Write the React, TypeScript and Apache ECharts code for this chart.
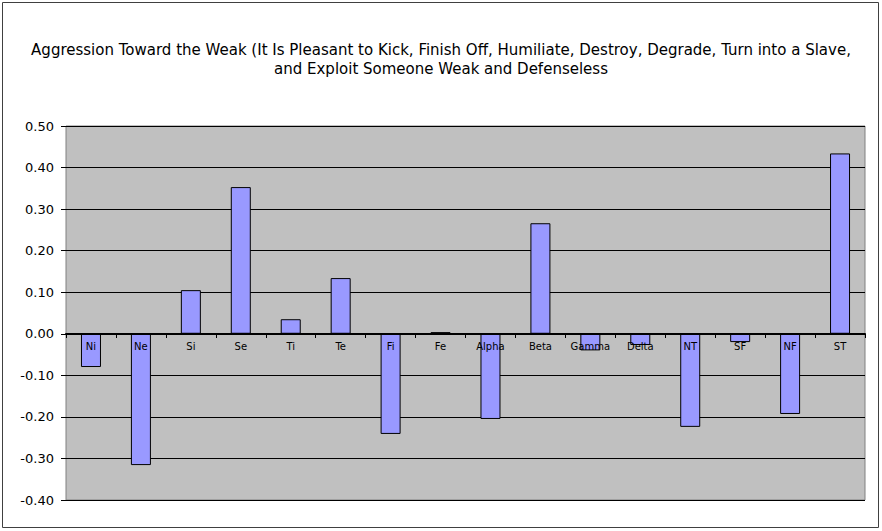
import React, { useEffect, useRef } from "react";
import * as echarts from "echarts";

const categories = ["Ni", "Ne", "Si", "Se", "Ti", "Te", "Fi", "Fe", "Alpha", "Beta", "Gamma", "Delta", "NT", "SF", "NF", "ST"];
const values = [-0.08, -0.316, 0.105, 0.353, 0.035, 0.134, -0.241, 0.004, -0.205, 0.266, -0.04, -0.027, -0.224, -0.02, -0.193, 0.434];
const titleLines = [
  "Aggression Toward the Weak (It Is Pleasant to Kick, Finish Off, Humiliate, Destroy, Degrade, Turn into a Slave,",
  "and Exploit Someone Weak and Defenseless",
];

export default function App() {
  const ref = useRef<HTMLDivElement>(null);
  useEffect(() => {
    if (!ref.current) return;
    const chart = echarts.init(ref.current, undefined, { renderer: "svg" });
    const font = "DejaVu Sans";
    chart.setOption({
      animation: false,
      backgroundColor: "#ffffff",
      textStyle: { fontFamily: font },
      title: {
        text: titleLines.join("\n"),
        left: "center",
        top: 35,
        textStyle: { fontFamily: font, fontSize: 15, fontWeight: "normal", color: "#000", lineHeight: 19 },
      },
      graphic: [
        {
          type: "rect",
          shape: { x: 2.5, y: 2.5, width: 876, height: 525 },
          style: { fill: "none", stroke: "#404040", lineWidth: 1 },
          silent: true,
        },
      ],
      grid: {
        left: 66,
        right: 17,
        top: 126,
        bottom: 31,
        show: true,
        backgroundColor: "#c0c0c0",
        borderColor: "#808080",
        borderWidth: 1,
        containLabel: false,
      },
      xAxis: {
        type: "category",
        data: categories,
        z: 10,
        offset: -166,
        axisLine: { onZero: false, lineStyle: { color: "#000", width: 2 } },
        axisTick: { show: true, alignWithLabel: false, length: 4, lineStyle: { color: "#000" } },
        axisLabel: { fontFamily: font, fontSize: 10, color: "#000", margin: 7, interval: 0 },
        splitLine: { show: false },
      },
      yAxis: {
        type: "value",
        min: -0.4,
        max: 0.5,
        interval: 0.1,
        axisLine: { show: false },
        axisTick: { show: true, length: 5, lineStyle: { color: "#000" } },
        axisLabel: {
          fontFamily: font,
          fontSize: 13,
          color: "#000",
          margin: 12,
          formatter: (v: number) => v.toFixed(2),
        },
        splitLine: { show: true, lineStyle: { color: "#000", width: 1 } },
      },
      series: [
        {
          type: "bar",
          data: values,
          barWidth: 20,
          itemStyle: { color: "#9999ff", borderColor: "#000", borderWidth: 1 },
        },
      ],
    });
    return () => chart.dispose();
  }, []);
  return <div ref={ref} style={{ position: "fixed", left: 0, top: 0, width: 882, height: 531 }} />;
}
